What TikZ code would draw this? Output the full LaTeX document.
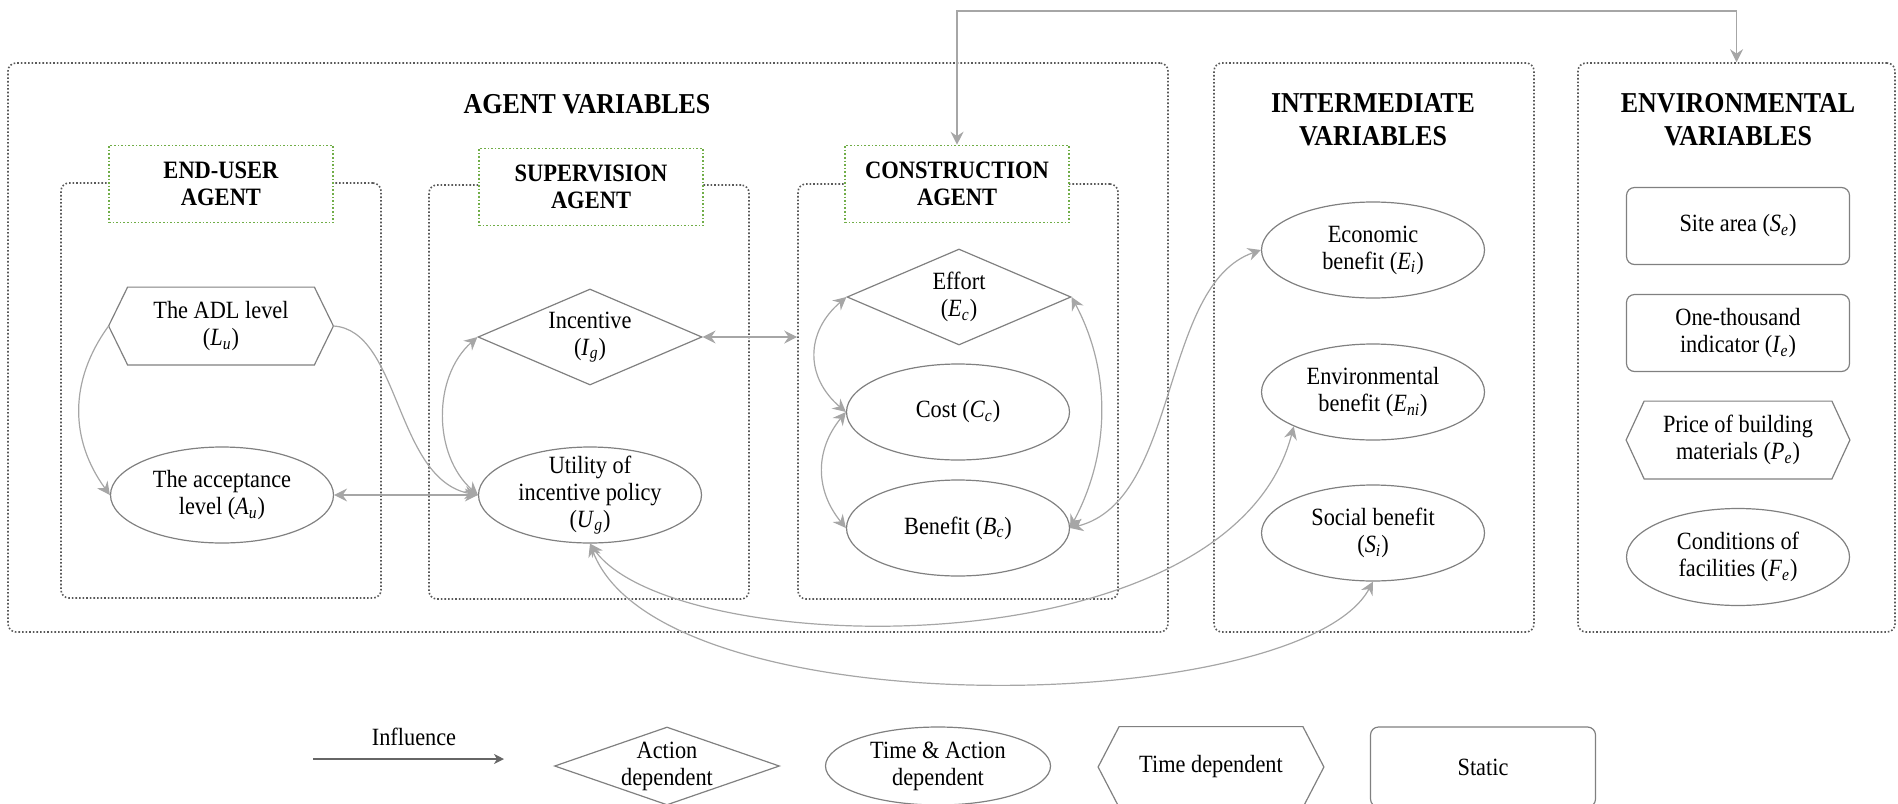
\documentclass[tikz,border=0pt]{standalone}
\usepackage{fontspec}
\setmainfont{Liberation Serif}[FakeStretch=0.9]
\usetikzlibrary{arrows.meta,shapes.geometric,calc}

\definecolor{linkgray}{HTML}{A6A6A6}
\definecolor{shapegray}{HTML}{808080}
\definecolor{framegray}{HTML}{595959}
\definecolor{taggreen}{HTML}{70AD47}
\definecolor{keygray}{HTML}{666666}

% italic variable with italic subscript
\newcommand{\varsym}[2]{\textit{#1}\textsubscript{\textit{#2}}}
% hexagon drawn around a rectangular node, pointed left and right
\newcommand{\hexoutline}[2]{%
  \draw[shapegray, line width=0.6pt]
    (#1.west) -- ($(#1.north west)+(#2,0)$) -- ($(#1.north east)+(-#2,0)$)
    -- (#1.east) -- ($(#1.south east)+(-#2,0)$) -- ($(#1.south west)+(#2,0)$) -- cycle;}

\begin{document}
\begin{tikzpicture}[x=0.5pt, y=-0.5pt,
  font=\fontsize{12.4}{13.5}\selectfont,
  >={Stealth[length=6.5pt,width=6.5pt,inset=2.2pt]},
  boxframe/.style={draw=framegray, line width=0.8pt, densely dotted, rounded corners=4pt, inner sep=0pt},
  agenttag/.style={draw=taggreen, line width=0.8pt, densely dotted, fill=white,
    minimum width=112pt, minimum height=38.5pt, inner sep=0pt, align=center,
    font=\fontsize{12.5}{13.5}\selectfont\bfseries},
  grouptitle/.style={align=center, font=\fontsize{14.4}{16.5}\selectfont\bfseries},
  varoval/.style={ellipse, draw=shapegray, line width=0.6pt, minimum width=111.5pt,
    minimum height=48pt, inner sep=-6pt, align=center},
  vardiamond/.style={diamond, draw=shapegray, line width=0.6pt, minimum width=112pt,
    minimum height=48pt, inner sep=-4pt, aspect=2.33, align=center},
  varrect/.style={rectangle, draw=shapegray, line width=0.6pt, rounded corners=4pt,
    minimum width=111.5pt, minimum height=38.5pt, align=center},
  varhex/.style={rectangle, minimum width=112pt, minimum height=38.5pt, inner sep=0pt, align=center},
  twoway/.style={draw=linkgray, line width=0.6pt, <->},
  oneway/.style={draw=linkgray, line width=0.6pt, ->},
  influence/.style={draw=keygray, line width=0.7pt, -{Stealth[length=5pt,width=5pt,inset=1.5pt]}},
]
\useasboundingbox (0,0) rectangle (1898,803);
\clip (0,0) rectangle (1898,803);

% group frames
\node[boxframe, minimum width=580pt, minimum height=284.5pt] (agentbox) at (588,347.5) {};
\node[boxframe, minimum width=160pt, minimum height=284.5pt] (interbox) at (1374,347.5) {};
\node[boxframe, minimum width=158.5pt, minimum height=284.5pt] (envbox) at (1736.5,347.5) {};

\node[grouptitle] (agentttl) at (587,104) {AGENT VARIABLES};
\node[grouptitle] (interttl) at (1373,120) {INTERMEDIATE\\VARIABLES};
\node[grouptitle] (envttl) at (1738,120) {ENVIRONMENTAL\\VARIABLES};

% agent frames and their tags
\node[boxframe, minimum width=160pt, minimum height=207.5pt] (userbox) at (221,390.5) {};
\node[boxframe, minimum width=160pt, minimum height=207pt] (supbox) at (589,392) {};
\node[boxframe, minimum width=160pt, minimum height=207.5pt] (conbox) at (958,391.5) {};

\node[agenttag] (usertag) at (221,184) {END-USER\\AGENT};
\node[agenttag] (suptag) at (591,187) {SUPERVISION\\AGENT};
\node[agenttag] (contag) at (957,184) {CONSTRUCTION\\AGENT};

% end-user agent
\node[varhex] (adl) at (221,326) {The ADL level\\(\varsym{L}{u})};
\hexoutline{adl}{19}
\node[varoval] (acc) at (222,495) {The acceptance\\level (\varsym{A}{u})};

% supervision agent
\node[vardiamond] (inc) at (590,337) {Incentive\\(\varsym{I}{g})};
\node[varoval] (util) at (590,495) {Utility of\\incentive policy\\(\varsym{U}{g})};

% construction agent
\node[vardiamond] (eff) at (959,297) {Effort\\(\varsym{E}{c})};
\node[varoval] (cost) at (958,412) {Cost (\varsym{C}{c})};
\node[varoval] (ben) at (958,528) {Benefit (\varsym{B}{c})};

% intermediate variables
\node[varoval] (eco) at (1373,250) {Economic\\benefit (\varsym{E}{i})};
\node[varoval] (envb) at (1373,392) {Environmental\\benefit (\varsym{E}{ni})};
\node[varoval] (soc) at (1373,533) {Social benefit\\(\varsym{S}{i})};

% environmental variables
\node[varrect] (site) at (1738,226) {Site area (\varsym{S}{e})};
\node[varrect] (thou) at (1738,333) {One-thousand\\indicator (\varsym{I}{e})};
\node[varhex, minimum width=111.5pt] (price) at (1738,440) {Price of building\\materials (\varsym{P}{e})};
\hexoutline{price}{18}
\node[varoval, minimum height=48.5pt] (cond) at (1738,557) {Conditions of\\facilities (\varsym{F}{e})};

% influences
\draw[oneway] (adl.west) .. controls +(-40,55) and +(-40,-55) .. (acc.west);
\draw[oneway] (adl.east) .. controls +(67,4) and +(-83,-15) .. (util.west);
\draw[twoway] (inc.west) .. controls +(-45,40) and +(-45,-40) .. (util.west);
\draw[twoway] (acc.east) -- (util.west);
\draw[twoway] (inc.east) -- (inc.east -| conbox.west);
\draw[twoway] (eff.west) .. controls +(-41,35) and +(-41,-35) .. (cost.west);
\draw[twoway] (cost.west) .. controls +(-31,38) and +(-31,-38) .. (ben.west);
\draw[twoway] (eff.east) .. controls +(40,75) and +(40,-75) .. (ben.east);
\draw[twoway] (ben.east) .. controls +(110,-28) and +(-101,35) .. (eco.west);
\draw[twoway] (util.south) .. controls +(83,117) and +(-64,247) .. (envb.south west);
\draw[twoway] (util.south) .. controls +(70,187) and +(-73,135) .. (soc.south);
\coordinate (topR) at (1736.5,11);
\draw[twoway] (contag.north) |- (topR) -- (envbox.north);

% key
\coordinate (inflA) at (313,759);
\coordinate (inflB) at (504,759);
\draw[influence] (inflA) -- (inflB);
\node (infltxt) at (414,737) {Influence};
\node[vardiamond, minimum width=112.5pt, minimum height=39pt, aspect=2.9, inner sep=-11pt] (lgaction) at (667,766) {Action\\dependent};
\node[varoval, minimum width=112.5pt, minimum height=39pt] (lgboth) at (938,766) {Time \& Action\\dependent};
\node[varhex, minimum width=112.5pt, minimum height=40pt] (lgtime) at (1211,767) {Time dependent};
\hexoutline{lgtime}{21}
\node[varrect, minimum width=112.5pt, minimum height=40pt] (lgstatic) at (1483,767) {Static};
\end{tikzpicture}
\end{document}
